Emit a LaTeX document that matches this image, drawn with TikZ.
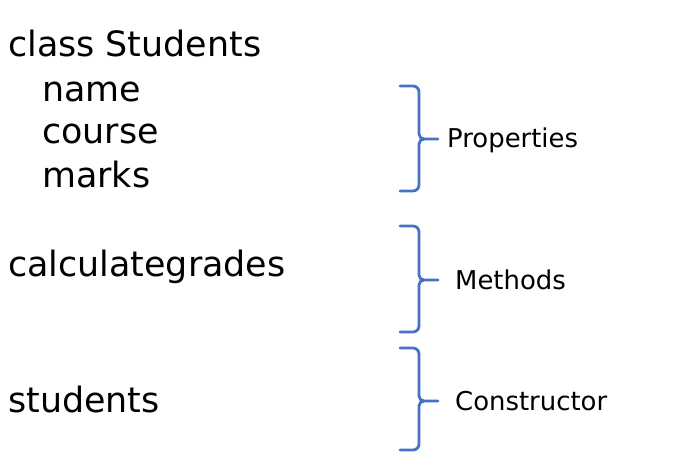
\documentclass[tikz,border=0pt]{standalone}
\usepackage{fontspec}
\setmainfont{DejaVu Sans}
\begin{document}
\begin{tikzpicture}[x=1bp,y=-1bp,
  bigtxt/.style={anchor=base west,inner sep=0pt,font=\fontsize{35}{40}\selectfont},
  smalltxt/.style={anchor=base west,inner sep=0pt,font=\fontsize{26}{30}\selectfont},
  bracepath/.style={draw={rgb,255:red,68;green,114;blue,196},line width=2.8bp,line cap=round,line join=round}]
\useasboundingbox[fill=white] (0,0) rectangle (700,452);
% left texts
\node[bigtxt] (cls) at (8,57) {class Students};
\node[bigtxt] (nm) at (42,102) {name};
\node[bigtxt] (crs) at (42,144) {course};
\node[bigtxt] (mk) at (42,188) {marks};
\node[bigtxt] (calc) at (8,277) {calculategrades};
\node[bigtxt] (stu) at (8,412) {students};
% braces
\newcommand{\mybrace}[3]{%
  \draw[bracepath] (400,#1) -- (413,#1) to[out=0,in=90] (419,#1+6) -- (419,#2-5) to[out=-90,in=180] (424,#2) -- (438,#2);
  \draw[bracepath] (424,#2) to[out=180,in=90] (419,#2+5) -- (419,#3-6) to[out=-90,in=0] (413,#3) -- (400,#3);}
\mybrace{86}{139}{191}
\mybrace{226}{280}{332}
\mybrace{348}{401}{450}
% labels
\node[smalltxt] (prop) at (447,148) {Properties};
\node[smalltxt] (meth) at (455,290) {Methods};
\node[smalltxt] (cons) at (455,410) {Constructor};
\end{tikzpicture}
\end{document}
